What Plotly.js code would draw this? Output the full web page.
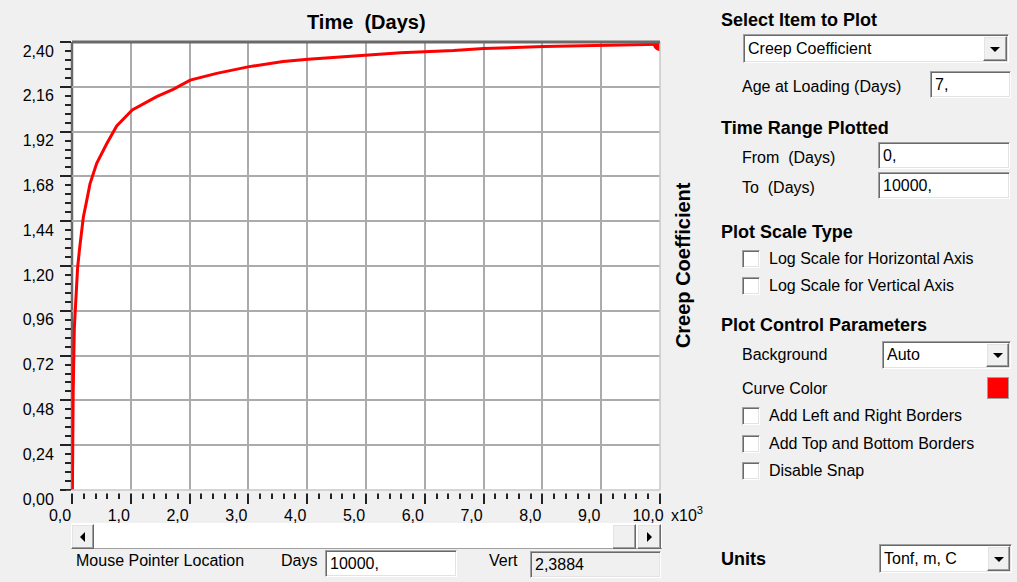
<!DOCTYPE html>
<html>
<head>
<meta charset="utf-8">
<script src="https://cdn.plot.ly/plotly-3.0.1.min.js"></script>
<style>
  html, body { margin:0; padding:0; background:#f0f0f0; }
  body { width:1017px; height:582px; position:relative; overflow:hidden;
         font-family:'Liberation Sans', Arial, sans-serif; color:#000; }
  #chart { position:absolute; left:0; top:0; width:1017px; height:582px; }
  .t { position:absolute; font-size:16px; line-height:20px; white-space:pre; }
  .b { position:absolute; font-size:18px; font-weight:bold; line-height:22px; white-space:pre; }
  .box { position:absolute; background:#fff; box-sizing:border-box; border:1px solid;
         border-color:#a0a0a0 #ffffff #ffffff #a0a0a0;
         box-shadow: inset 1px 1px 0 #696969, inset -1px -1px 0 #e3e3e3;
         font-size:16px; padding-left:4px; white-space:pre; overflow:hidden; }
  .btn { position:absolute; background:#f0f0f0; box-sizing:border-box; border:1px solid;
         border-color:#ffffff #696969 #696969 #ffffff;
         box-shadow: inset -1px -1px 0 #a0a0a0, inset 1px 1px 0 #e3e3e3; }
  .down { position:absolute; left:50%; top:50%; margin-left:-5px; margin-top:-2px; width:0; height:0;
          border-left:5px solid transparent; border-right:5px solid transparent; border-top:5px solid #000; }
  .left { position:absolute; left:50%; top:50%; margin-left:-3px; margin-top:-5px; width:0; height:0;
          border-top:5px solid transparent; border-bottom:5px solid transparent; border-right:5px solid #000; }
  .right { position:absolute; left:50%; top:50%; margin-left:-2px; margin-top:-5px; width:0; height:0;
          border-top:5px solid transparent; border-bottom:5px solid transparent; border-left:5px solid #000; }
  .cb { position:absolute; width:18px; height:18px; background:#fff; box-sizing:border-box; border:1px solid;
        border-color:#a0a0a0 #ffffff #ffffff #a0a0a0; box-shadow: inset 1px 1px 0 #696969, inset -1px -1px 0 #e3e3e3; }
</style>
</head>
<body>
<div id="chart"></div>

<!-- right control panel -->
<div class="b" style="left:721px; top:9px;">Select Item to Plot</div>
<div class="box" style="left:743px; top:34px; width:266px; height:29px; line-height:27px;">Creep Coefficient</div>
<div class="btn" style="left:983px; top:36px; width:24px; height:25px;"><div class="down"></div></div>
<div class="t" style="left:742px; top:77px;">Age at Loading (Days)</div>
<div class="box" style="left:930px; top:71px; width:81px; height:27px; line-height:25px;">7,</div>

<div class="b" style="left:721px; top:117px;">Time Range Plotted</div>
<div class="t" style="left:742px; top:148px;">From  (Days)</div>
<div class="box" style="left:878px; top:142px; width:132px; height:27px; line-height:25px;">0,</div>
<div class="t" style="left:742px; top:178px;">To  (Days)</div>
<div class="box" style="left:878px; top:172px; width:132px; height:27px; line-height:25px;">10000,</div>

<div class="b" style="left:721px; top:221px;">Plot Scale Type</div>
<div class="cb" style="left:742px; top:250px;"></div>
<div class="t" style="left:769px; top:249px;">Log Scale for Horizontal Axis</div>
<div class="cb" style="left:742px; top:277px;"></div>
<div class="t" style="left:769px; top:276px;">Log Scale for Vertical Axis</div>

<div class="b" style="left:721px; top:314px;">Plot Control Parameters</div>
<div class="t" style="left:742px; top:345px;">Background</div>
<div class="box" style="left:882px; top:341px; width:129px; height:28px; line-height:26px;">Auto</div>
<div class="btn" style="left:986px; top:343px; width:23px; height:24px;"><div class="down"></div></div>
<div class="t" style="left:742px; top:379px;">Curve Color</div>
<div style="position:absolute; left:987px; top:377px; width:22px; height:22px; background:#ff0000; box-sizing:border-box; border:1px solid #a0a0a0;"></div>
<div class="cb" style="left:742px; top:407px;"></div>
<div class="t" style="left:769px; top:406px;">Add Left and Right Borders</div>
<div class="cb" style="left:742px; top:435px;"></div>
<div class="t" style="left:769px; top:434px;">Add Top and Bottom Borders</div>
<div class="cb" style="left:742px; top:462px;"></div>
<div class="t" style="left:769px; top:461px;">Disable Snap</div>

<div class="b" style="left:721px; top:548px;">Units</div>
<div class="box" style="left:879px; top:544px; width:133px; height:29px; line-height:27px;">Tonf, m, C</div>
<div class="btn" style="left:987px; top:546px; width:23px; height:25px;"><div class="down"></div></div>

<!-- scrollbar -->
<div style="position:absolute; left:71px; top:523px; width:591px; height:26px; background:#ffffff; border-bottom:1px solid #a0a0a0; box-sizing:border-box;"></div>
<div class="btn" style="left:71px; top:524px; width:23px; height:25px;"><div class="left"></div></div>
<div class="btn" style="left:612px; top:524px; width:24px; height:25px;"></div>
<div class="btn" style="left:637px; top:524px; width:24px; height:25px;"><div class="right"></div></div>

<!-- status row -->
<div class="t" style="left:76px; top:551px;">Mouse Pointer Location</div>
<div class="t" style="left:281px; top:551px;">Days</div>
<div class="box" style="left:325px; top:550px; width:132px; height:27px; line-height:25px;">10000,</div>
<div class="t" style="left:489px; top:551px;">Vert</div>
<div class="box" style="left:530px; top:551px; width:131px; height:27px; line-height:25px; background:#f0f0f0;">2,3884</div>

<script>
// Creep coefficient vs time (days)
const days  = [7, 12, 20, 40, 65, 95, 128, 192, 250, 306, 420, 527, 590, 760, 1025, 1440, 1720, 2010, 2460, 3015, 3590, 4015, 4440, 5000, 5590, 6490, 7000, 8020, 9000, 9900, 10000];
const creep = [0, 0.30, 0.52, 0.87, 1.045, 1.19, 1.29, 1.46, 1.55, 1.64, 1.75, 1.82, 1.855, 1.95, 2.036, 2.107, 2.146, 2.196, 2.232, 2.268, 2.295, 2.308, 2.318, 2.33, 2.343, 2.354, 2.365, 2.376, 2.381, 2.385, 2.3884];

// axis ticks
const xTickVals = [0, 1000, 2000, 3000, 4000, 5000, 6000, 7000, 8000, 9000, 10000];
const xTickText = ["0,0", "1,0", "2,0", "3,0", "4,0", "5,0", "6,0", "7,0", "8,0", "9,0", "10,0"];
const yTickVals = [0, 0.24, 0.48, 0.72, 0.96, 1.20, 1.44, 1.68, 1.92, 2.16, 2.40];

const xTitle = "Time\u00a0\u00a0(Days)";
const yTitle = "Creep Coefficient";
const xMultiplier = "x10<sup>3</sup>";

const font = "'Liberation Sans', Arial, sans-serif";
const lastI = days.length - 1;

const traces = [
  { x: days, y: creep, type: 'scatter', mode: 'lines',
    line: { color: '#ff0000', width: 3 }, hoverinfo: 'skip', showlegend: false },
  { x: [days[lastI]], y: [creep[lastI]], type: 'scatter', mode: 'markers',
    marker: { color: '#ff0000', size: 14, symbol: 'circle' }, hoverinfo: 'skip', showlegend: false }
];

const layout = {
  width: 1017, height: 582,
  margin: { l: 72, r: 357, t: 42, b: 92, pad: 0 },
  paper_bgcolor: '#f0f0f0', plot_bgcolor: '#ffffff',
  separators: ', ',
  font: { family: font, size: 16, color: '#000' },
  showlegend: false,
  xaxis: {
    range: [0, 10000], fixedrange: true,
    tickmode: 'array', tickvals: xTickVals, ticktext: xTickText,
    ticks: 'outside', ticklen: 13, tickwidth: 2, tickcolor: '#222',
    ticklabelshift: -12, ticklabelstandoff: -2,
    minor: { tickmode: 'linear', tick0: 0, dtick: 200, ticks: 'outside', ticklen: 8, tickwidth: 2, tickcolor: '#222', showgrid: false },
    showgrid: true, gridcolor: '#ababab', gridwidth: 2,
    zeroline: false, showline: false,
    tickfont: { family: font, size: 16, color: '#000' }
  },
  yaxis: {
    range: [0, 2.4], fixedrange: true,
    tickmode: 'array', tickvals: yTickVals, tickformat: '.2f',
    ticks: 'outside', ticklen: 11, tickwidth: 2, tickcolor: '#222',
    ticklabelshift: 9, ticklabelstandoff: 3,
    minor: { tickmode: 'linear', tick0: 0, dtick: 0.048, ticks: 'outside', ticklen: 6, tickwidth: 2, tickcolor: '#222', showgrid: false },
    showgrid: true, gridcolor: '#ababab', gridwidth: 2,
    zeroline: false, showline: false,
    tickfont: { family: font, size: 16, color: '#000' }
  },
  shapes: [
    // gap between plot bottom and x ticks
    { type: 'rect', xref: 'paper', yref: 'paper', x0: -0.01, x1: 1.01, y0: -3.5/448, y1: -0.7/448,
      fillcolor: '#f0f0f0', line: { width: 0 }, layer: 'above' },
    // light right / bottom frame
    { type: 'line', xref: 'paper', yref: 'paper', x0: 1, x1: 1, y0: 0, y1: 1, line: { color: '#c8c8c8', width: 1.5 }, layer: 'above' },
    { type: 'line', xref: 'paper', yref: 'paper', x0: 0, x1: 1, y0: 0, y1: 0, line: { color: '#c8c8c8', width: 1.5 }, layer: 'above' },
    // dark top / left frame
    { type: 'line', xref: 'paper', yref: 'paper', x0: 0, x1: 1, y0: 1, y1: 1, line: { color: '#6a6a6a', width: 3 }, layer: 'above' },
    { type: 'line', xref: 'paper', yref: 'paper', x0: 0, x1: 0, y0: 0, y1: 1, line: { color: '#6a6a6a', width: 2.5 }, layer: 'below' }
  ],
  annotations: [
    { text: xTitle, xref: 'paper', yref: 'paper', x: 0.5, y: 1, yshift: 20, xanchor: 'center', yanchor: 'middle',
      showarrow: false, font: { family: font, size: 20, color: '#000', weight: 'bold' } },
    { text: yTitle, xref: 'paper', yref: 'paper', x: 1, xshift: 23, y: 0.502, textangle: -90,
      xanchor: 'center', yanchor: 'middle', showarrow: false,
      font: { family: font, size: 20, color: '#000', weight: 'bold' } },
    { text: xMultiplier, xref: 'paper', yref: 'paper', x: 1, xshift: 9, y: 0, yshift: -24,
      xanchor: 'left', yanchor: 'middle', showarrow: false,
      font: { family: font, size: 16, color: '#000' } }
  ]
};

Plotly.newPlot('chart', traces, layout, { displayModeBar: false, staticPlot: true });
</script>
</body>
</html>
